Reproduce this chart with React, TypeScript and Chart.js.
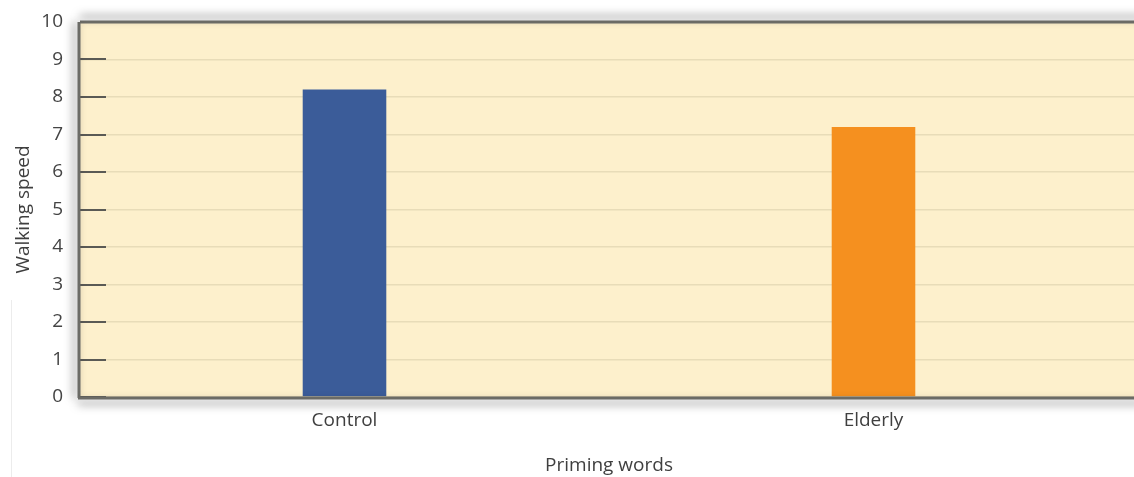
import React, { useEffect, useRef } from "react";
import { Chart, registerables } from "chart.js";

Chart.register(...registerables);

const categories = ["Control", "Elderly"];
const walkingSpeed = [8.2, 7.2];
const barColors = ["#3b5c99", "#f5901f"];
const yTitle = "Walking speed";
const xTitle = "Priming words";

const W = 1138;
const H = 477;
const FONT = "'Open Sans', 'Liberation Sans', sans-serif";

const framePlugin = {
  id: "framePlugin",
  beforeDraw(chart: any) {
    const { ctx, chartArea: a } = chart;
    ctx.save();
    ctx.fillStyle = "#ffffff";
    ctx.fillRect(0, 0, chart.width, chart.height);
    // faint outer frame
    ctx.strokeStyle = "#ececec";
    ctx.lineWidth = 1;
    ctx.beginPath();
    ctx.moveTo(11.5, 300);
    ctx.lineTo(11.5, H);
    ctx.stroke();
    ctx.fillStyle = "#fdf0cc";
    ctx.fillRect(a.left, a.top, a.right - a.left, a.bottom - a.top);
    ctx.restore();
  },
  afterDatasetsDraw(chart: any) {
    const { ctx, chartArea: a, scales } = chart;
    const y = scales.y;
    ctx.save();
    // tick marks inside the plot
    ctx.strokeStyle = "#5a5a55";
    ctx.lineWidth = 2;
    y.ticks.forEach((t: any) => {
      const py = Math.round(y.getPixelForValue(t.value));
      ctx.beginPath();
      ctx.moveTo(a.left, py);
      ctx.lineTo(a.left + 26, py);
      ctx.stroke();
    });
    // borders with shadows
    ctx.strokeStyle = "#6b6b66";
    ctx.lineWidth = 3;
    ctx.shadowColor = "rgba(0,0,0,0.5)";
    ctx.shadowBlur = 9;
    // top
    ctx.shadowOffsetX = 0;
    ctx.shadowOffsetY = -5;
    ctx.beginPath();
    ctx.moveTo(a.left, a.top);
    ctx.lineTo(a.right + 5, a.top);
    ctx.stroke();
    // left
    ctx.shadowOffsetX = -4;
    ctx.shadowOffsetY = 0;
    ctx.beginPath();
    ctx.moveTo(a.left - 1, a.top);
    ctx.lineTo(a.left - 1, a.bottom + 1);
    ctx.stroke();
    // bottom
    ctx.shadowOffsetX = 0;
    ctx.shadowOffsetY = 5;
    ctx.beginPath();
    ctx.moveTo(a.left - 2, a.bottom + 1);
    ctx.lineTo(a.right + 5, a.bottom + 1);
    ctx.stroke();
    ctx.restore();
  },
};

export default function App() {
  const ref = useRef<HTMLCanvasElement>(null);

  useEffect(() => {
    if (!ref.current) return;
    const chart = new Chart(ref.current, {
      type: "bar",
      data: {
        labels: categories,
        datasets: [
          {
            data: walkingSpeed,
            backgroundColor: barColors,
            borderWidth: 0,
            categoryPercentage: 1,
            barPercentage: 0.158,
          },
        ],
      },
      options: {
        animation: false,
        responsive: false,
        devicePixelRatio: 1,
        layout: { padding: { top: 22, right: 0, left: 0, bottom: 0 } },
        plugins: {
          legend: { display: false },
          tooltip: { enabled: false },
        },
        scales: {
          y: {
            min: 0,
            max: 10,
            ticks: {
              stepSize: 1,
              color: "#444",
              font: { family: FONT, size: 19 },
              padding: 17,
            },
            grid: { color: "#e8dcb8", lineWidth: 1.5, drawTicks: false },
            border: { display: false },
            title: {
              display: true,
              text: yTitle,
              color: "#3f3f3f",
              font: { family: FONT, size: 19 },
              padding: { top: 12, bottom: 0 },
            },
            afterFit: (s: any) => {
              s.width = 80;
              s.paddingTop = 0;
              s.paddingBottom = 0;
            },
          },
          x: {
            ticks: {
              color: "#3f3f3f",
              font: { family: FONT, size: 19 },
              padding: 12,
            },
            grid: { display: false, drawTicks: false },
            border: { display: false },
            title: {
              display: true,
              text: xTitle,
              color: "#3f3f3f",
              font: { family: FONT, size: 19 },
              padding: { top: 0, bottom: 0 },
            },
            afterFit: (s: any) => {
              s.height = 80;
              s.paddingLeft = 0;
              s.paddingRight = 0;
            },
          },
        },
      },
      plugins: [framePlugin],
    });
    return () => chart.destroy();
  }, []);

  return (
    <div style={{ position: "fixed", left: 0, top: 0, width: W, height: H, background: "#fff" }}>
      <canvas ref={ref} width={W} height={H} style={{ display: "block", width: W, height: H }} />
    </div>
  );
}
